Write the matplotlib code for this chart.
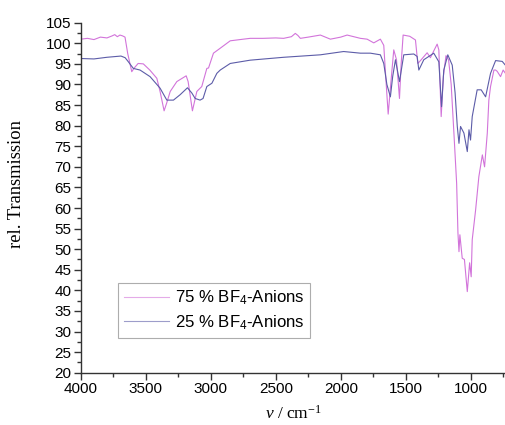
import matplotlib
matplotlib.use("Agg")
import matplotlib.pyplot as plt
from matplotlib.ticker import MultipleLocator

plt.rcParams['font.family'] = ['Liberation Sans', 'DejaVu Sans']
plt.rcParams['mathtext.fontset'] = 'custom'
plt.rcParams['mathtext.rm'] = 'Liberation Serif'
plt.rcParams['mathtext.it'] = 'Liberation Serif:italic'
plt.rcParams['mathtext.sf'] = 'Liberation Sans'

# 75 % BF4-Anions (wavenumber, rel. transmission)
wn75 = [4000, 3950, 3900, 3850, 3800, 3760, 3740, 3720, 3700, 3680, 3661, 3640, 3609, 3590, 3560,
        3520, 3470, 3416, 3391, 3360, 3340, 3313, 3262, 3190, 3175, 3142, 3108, 3070, 3031,
        3018, 2980, 2928, 2851, 2750, 2697, 2600, 2500, 2440, 2380, 2350, 2330, 2311,
        2250, 2157, 2080, 2000, 1951, 1900, 1849, 1797, 1746, 1695, 1669, 1650, 1635,
        1610, 1592, 1571, 1548, 1535, 1520, 1469, 1425, 1407, 1392, 1335, 1310, 1258, 1245,
        1227, 1210, 1190, 1170, 1150, 1129, 1108, 1098, 1090, 1083, 1065, 1048, 1026, 1008,
        996, 988, 962, 937, 910, 893, 872, 860, 847, 821, 808, 796, 770, 750, 728]
t75 = [101.0, 101.2, 100.9, 101.5, 101.3, 101.8, 102.1, 101.6, 102.0, 101.8, 101.5, 97.5, 93.1, 94.0, 95.1,
       95.0, 93.5, 91.5, 88.3, 83.6, 85.5, 88.3, 90.7, 92.1, 90.7, 83.6, 88.3, 89.5, 93.9,
       94.0, 97.6, 98.8, 100.6, 101.0, 101.2, 101.2, 101.3, 101.2, 101.6, 102.4, 101.9, 101.2,
       101.5, 102.0, 101.0, 101.5, 102.0, 101.6, 101.2, 101.0, 100.1, 101.0, 99.5, 90.0, 82.8,
       92.0, 98.4, 96.0, 86.6, 95.0, 102.0, 101.7, 100.8, 95.1, 95.6, 97.7, 96.5, 99.8, 98.4,
       82.2, 92.0, 97.0, 96.0, 90.0, 78.2, 66.0, 54.0, 49.4, 53.5, 47.8, 47.5, 39.7, 46.7,
       43.3, 52.3, 59.5, 67.6, 72.9, 70.0, 78.2, 86.2, 89.5, 93.5, 93.5, 93.2, 91.9, 93.5, 92.5]

# 25 % BF4-Anions (wavenumber, rel. transmission)
wn25 = [4000, 3900, 3800, 3692, 3660, 3635, 3597, 3545, 3468, 3391, 3339, 3288, 3237, 3180,
        3146, 3121, 3083, 3060, 3031, 2992, 2954, 2928, 2851, 2697, 2440, 2157, 1978, 1849,
        1772, 1695, 1669, 1645, 1618, 1600, 1579, 1548, 1515, 1438, 1412, 1399, 1361, 1284,
        1245, 1224, 1207, 1176, 1142, 1120, 1103, 1090, 1078, 1052, 1026, 1013, 1001, 988,
        950, 919, 885, 847, 808, 757, 728]
t25 = [96.3, 96.2, 96.6, 96.9, 96.5, 95.5, 93.9, 93.5, 91.9, 89.1, 86.2, 86.2, 87.5, 89.2,
       87.9, 86.6, 86.2, 86.6, 89.5, 90.3, 92.7, 93.5, 95.1, 95.9, 96.6, 97.2, 98.0, 97.6,
       97.6, 97.2, 95.1, 90.0, 87.0, 92.0, 96.0, 90.7, 97.2, 97.4, 96.8, 93.5, 96.0, 97.6,
       95.5, 84.6, 93.5, 97.2, 94.7, 88.0, 79.8, 75.7, 79.8, 78.2, 73.7, 79.0, 76.5, 82.2,
       88.7, 88.7, 87.0, 92.7, 95.8, 95.6, 94.5]

labels = ['75 % BF$_{\\mathsf{4}}$-Anions', '25 % BF$_{\\mathsf{4}}$-Anions']
colors = ['#d274da', '#5c5ca8']

fig = plt.figure(figsize=(5.06, 4.25), dpi=100)
ax = fig.add_axes([0.160, 0.123, 0.840, 0.8236])

ax.plot(wn75, t75, color=colors[0], lw=0.8, label=labels[0])
ax.plot(wn25, t25, color=colors[1], lw=0.8, label=labels[1])

ax.set_xlim(4000, 728)
ax.set_ylim(20, 105)
ax.xaxis.set_major_locator(MultipleLocator(500))
ax.xaxis.set_minor_locator(MultipleLocator(250))
ax.yaxis.set_major_locator(MultipleLocator(5))
ax.yaxis.set_minor_locator(MultipleLocator(2.5))
for s in ['top', 'right']:
    ax.spines[s].set_visible(False)
for s in ['left', 'bottom']:
    ax.spines[s].set_linewidth(1.0)
    ax.spines[s].set_color('#333333')
ax.tick_params(which='major', length=5, width=1.0, labelsize=11, color='#333333', pad=2)
ax.tick_params(which='minor', length=3, width=1.0, color='#333333')

ax.set_ylabel('rel. Transmission', family='Liberation Serif', fontsize=13.3)
ax.yaxis.set_label_coords(-0.132, 0.54)
ax.set_xlabel(r'$\mathit{\nu}$ / cm$^{-1}$', family='Liberation Serif', fontsize=12.5, labelpad=6)

leg = ax.legend(loc='upper left', bbox_to_anchor=(0.087, 0.256), borderaxespad=0,
                fontsize=12.1, handlelength=2.7, handletextpad=0.35, fancybox=False,
                frameon=True, borderpad=0.35, labelspacing=0.35)
leg.get_frame().set_edgecolor('#999999')
leg.get_frame().set_linewidth(0.8)
for h in leg.get_lines():
    h.set_alpha(0.6)

fig.savefig('out.png', dpi=100)
